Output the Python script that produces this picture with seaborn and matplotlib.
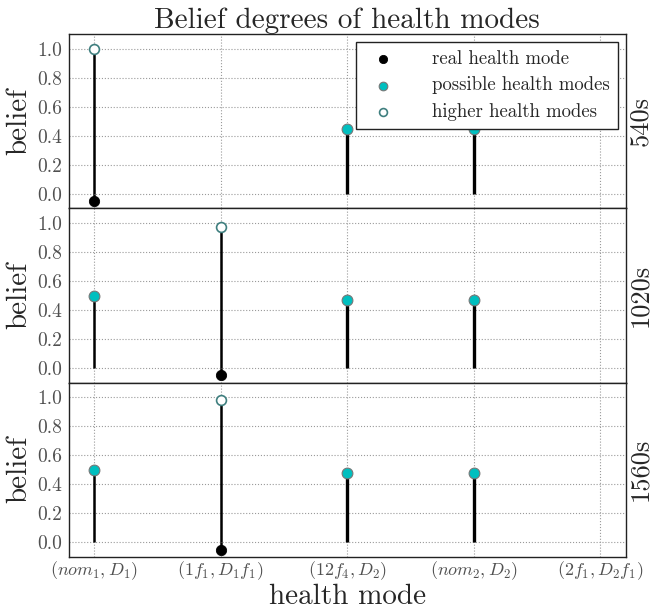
import numpy as np
import pandas as pd
import matplotlib
matplotlib.use('Agg')
import matplotlib.pyplot as plt
import seaborn as sns

modes = [r'$(nom_1, D_1)$', r'$(1f_1, D_1f_1)$', r'$(12f_4, D_2)$',
         r'$(nom_2, D_2)$', r'$(2f_1, D_2f_1)$']
times = ['540s', '1020s', '1560s']

# belief of each health mode, per time step
belief_540 = [1.0, 0.0, 0.45, 0.45, 0.0]
belief_1020 = [0.5, 0.97, 0.47, 0.47, 0.0]
belief_1560 = [0.5, 0.98, 0.48, 0.48, 0.0]
beliefs = [belief_540, belief_1020, belief_1560]

# index of real mode and of the higher (best) mode in each step
real_mode = [0, 1, 1]
higher_mode = [0, 1, 1]
real_marker_y = -0.05

sns.set_style('whitegrid')
plt.rcParams['font.family'] = ['cmr10', 'DejaVu Serif']
plt.rcParams['mathtext.fontset'] = 'cm'
plt.rcParams['axes.formatter.use_mathtext'] = True
plt.rcParams['axes.unicode_minus'] = False

fig, axes = plt.subplots(3, 1, figsize=(6.55, 6.1), dpi=100, sharex=True)
fig.subplots_adjust(left=0.105, right=0.955, top=0.944, bottom=0.087, hspace=0)

x = np.arange(len(modes))
for ax, t, b, r, h in zip(axes, times, beliefs, real_mode, higher_mode):
    df = pd.DataFrame({'mode': x, 'belief': b})
    stems = df[df['belief'] > 0]
    widths = [1.8 if i < 2 else 2.4 for i in stems['mode']]
    ax.vlines(stems['mode'], 0, stems['belief'], colors='black',
              linewidth=widths, zorder=2)
    # short stem down to the real mode marker
    ax.vlines([r], real_marker_y, 0, colors='black', linewidth=1.8, zorder=2)
    poss = stems[stems['mode'] != h]
    sns.scatterplot(data=poss, x='mode', y='belief', ax=ax, color='#00bfbf',
                    edgecolor='#777777', s=60, linewidth=0.8, zorder=3,
                    label='possible health modes' if t == '540s' else None)
    sns.scatterplot(x=[r], y=[real_marker_y], ax=ax, color='black',
                    edgecolor='black', s=55, zorder=3,
                    label='real health mode' if t == '540s' else None)
    sns.scatterplot(x=[h], y=[b[h]], ax=ax, color='white',
                    edgecolor='#3f7f7f', s=50, linewidth=1.2, zorder=3,
                    label='higher health modes' if t == '540s' else None)

    ax.set_xlim(-0.2, 4.2)
    ax.set_ylim(-0.1, 1.1)
    ax.set_yticks([0.0, 0.2, 0.4, 0.6, 0.8, 1.0])
    ax.set_yticklabels(['0.0', '0.2', '0.4', '0.6', '0.8', '1.0'])
    ax.set_xticks(x)
    ax.grid(True, color='#9a9a9a', linestyle=':', linewidth=0.8)
    for sp in ax.spines.values():
        sp.set_visible(True)
        sp.set_color('#222222')
        sp.set_linewidth(1.0)
    ax.tick_params(axis='both', length=0, labelcolor='#505050')
    ax.tick_params(axis='y', labelsize=14, pad=5)
    ax.tick_params(axis='x', labelsize=13, pad=2)
    ax.set_ylabel('belief', fontsize=21, labelpad=3)
    ax.set_xlabel('')
    ax.text(1.006, 0.5, t, transform=ax.transAxes, rotation=90,
            ha='left', va='center', fontsize=19)

axes[-1].set_xticklabels(modes)
# x label placed by its baseline so the font descent does not push it off
fig.text(0.53, 0.010, 'health mode', ha='center', va='baseline', fontsize=21)
axes[0].set_title('Belief degrees of health modes', fontsize=21, pad=4)

handles, labels = axes[0].get_legend_handles_labels()
order = [labels.index(l) for l in ['real health mode', 'possible health modes',
                                     'higher health modes']]
leg = axes[0].legend([handles[i] for i in order], [labels[i] for i in order],
                     loc='upper right', fontsize=13.5, frameon=True, fancybox=False,
                     framealpha=1, edgecolor='#222222', markerscale=0.8,
                     borderpad=0.45, handletextpad=1.6, labelspacing=0.45,
                     borderaxespad=0.4)
leg.get_frame().set_linewidth(1.0)
for a in axes[1:]:
    if a.get_legend():
        a.get_legend().remove()

fig.savefig('out.png', dpi=100)
